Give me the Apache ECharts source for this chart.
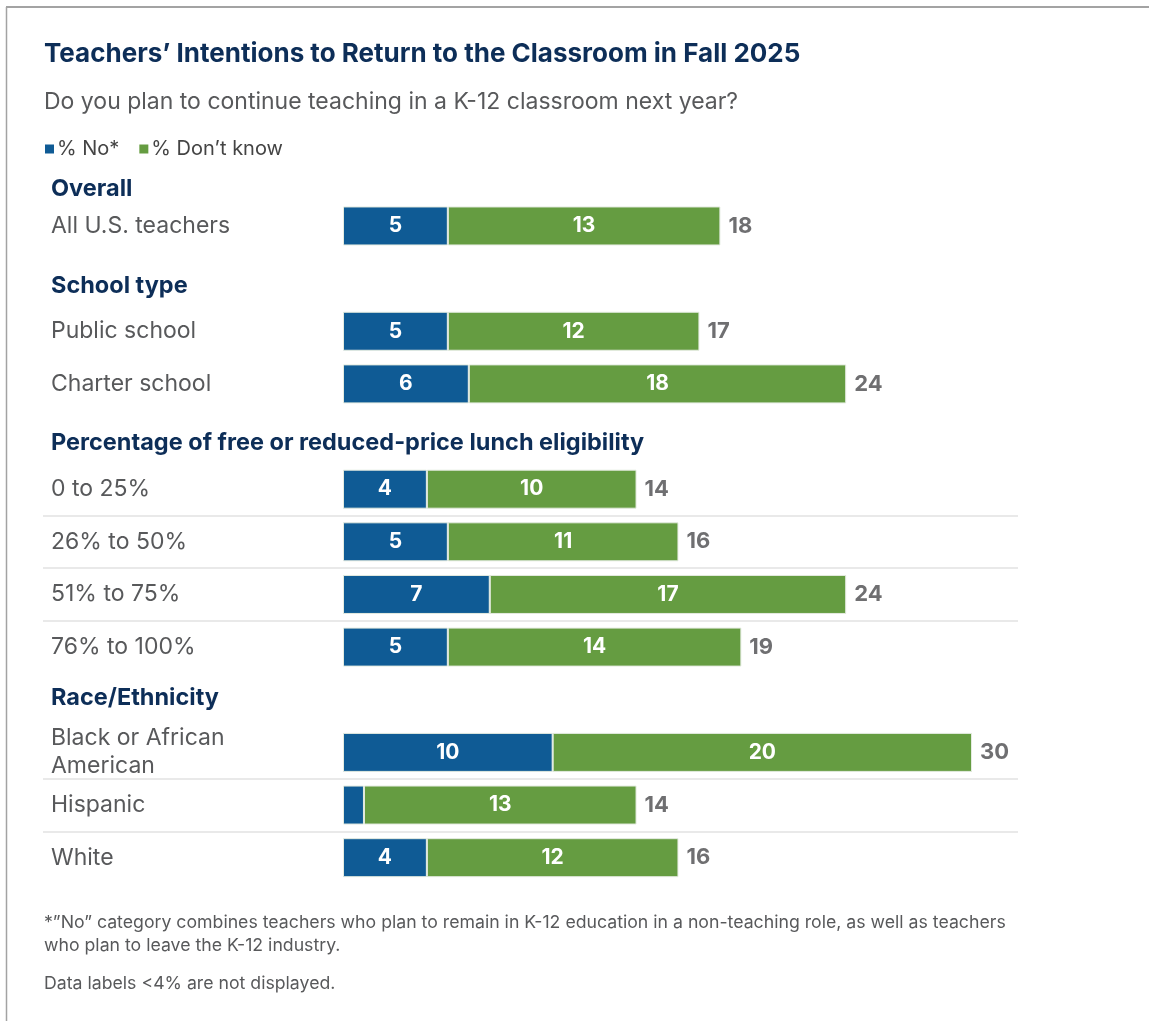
<!DOCTYPE html>
<html>
<head>
<meta charset="utf-8">
<title>Teachers’ Intentions to Return to the Classroom in Fall 2025</title>
<script src="https://cdn.jsdelivr.net/npm/echarts@6/dist/echarts.min.js"></script>
<style>
  html, body { margin: 0; padding: 0; background: #ffffff; }
  #chart { width: 1149px; height: 1021px; }
</style>
</head>
<body>
<div id="chart"></div>
<script>
// Rows, top to bottom. Group headings occupy their own row with no bars.
const rows = [
  'Overall',
  'All U.S. teachers',
  'School type',
  'Public school',
  'Charter school',
  'Percentage of free or reduced-price lunch eligibility',
  '0 to 25%',
  '26% to 50%',
  '51% to 75%',
  '76% to 100%',
  'Race/Ethnicity',
  'Black or African\nAmerican',
  'Hispanic',
  'White'
];
const headings = ['Overall', 'School type', 'Percentage of free or reduced-price lunch eligibility', 'Race/Ethnicity'];

// % No* and % Don't know (null on heading rows)
const noValues       = [null, 5, null, 5, 6, null, 4, 5, 7, 5, null, 10, 1, 4];
const dontKnowValues = [null, 13, null, 12, 18, null, 10, 11, 17, 14, null, 20, 13, 12];

// Rows that get a thin rule above them (inside a group)
const ruledRows = ['Charter school', '26% to 50%', '51% to 75%', '76% to 100%', 'Hispanic', 'White'];

const footnotes = [
  '*”No” category combines teachers who plan to remain in K-12 education in a non-teaching role, as well as teachers',
  'who plan to leave the K-12 industry.',
  'Data labels <4% are not displayed.'
];

const BLUE = '#0f5b95';
const GREEN = '#659c41';
const NAVY = '#0d2e58';
const GREY = '#58595b';
const FONT = 'Inter, "Noto Sans", sans-serif';

const totals = rows.map((r, i) =>
  noValues[i] == null ? null : [noValues[i] + dontKnowValues[i], i]
).filter(d => d !== null);

const chart = echarts.init(document.getElementById('chart'), null, { renderer: 'canvas' });

const gridTop = 147;
const gridBottom = 137;

const barLabel = {
  show: true,
  position: 'inside',
  color: '#ffffff',
  fontFamily: FONT,
  fontWeight: 'bold',
  fontSize: 21,
  formatter: p => (p.value == null || p.value < 4) ? '' : String(p.value)
};

// vertical centres of the group headings
const headingY = {
  'Overall': 189,
  'School type': 286,
  'Percentage of free or reduced-price lunch eligibility': 443,
  'Race/Ethnicity': 698
};

function textAt(x, y, text, font, fill, extra) {
  return {
    type: 'text', x: x, y: y,
    style: Object.assign({ text: text, font: font, fill: fill, verticalAlign: 'middle' }, extra || {})
  };
}

const graphics = [
  // frame
  { type: 'line', shape: { x1: 6, y1: 7, x2: 1149, y2: 7 }, style: { stroke: '#a3a3a3', lineWidth: 2 } },
  { type: 'line', shape: { x1: 6.5, y1: 7, x2: 6.5, y2: 1021 }, style: { stroke: '#a3a3a3', lineWidth: 1.5 } },
  // title and question
  textAt(44, 54, 'Teachers’ Intentions to Return to the Classroom in Fall 2025', 'bold 26px ' + FONT, NAVY),
  textAt(44, 102, 'Do you plan to continue teaching in a K-12 classroom next year?', '23px ' + FONT, GREY)
];

headings.forEach(h => {
  graphics.push(textAt(51, headingY[h], h, 'bold 23.5px ' + FONT, NAVY));
});

graphics.push(textAt(44, 923, footnotes[0], '17.7px ' + FONT, GREY));
graphics.push(textAt(44, 946, footnotes[1], '17.7px ' + FONT, GREY));
graphics.push(textAt(44, 984, footnotes[2], '17.7px ' + FONT, GREY));

const option = {
  backgroundColor: '#ffffff',
  animation: false,
  legend: {
    data: ['% No*', '% Don’t know'],
    left: 40,
    top: 134,
    icon: 'rect',
    itemWidth: 9,
    itemHeight: 9,
    itemGap: 20,
    itemStyle: { borderWidth: 0 },
    textStyle: { fontFamily: FONT, fontSize: 20, color: '#444444', padding: [0, 0, 0, -2] }
  },
  grid: [
    { left: 343, width: 629, top: gridTop, bottom: gridBottom },
    { left: 43, width: 975, top: gridTop, bottom: gridBottom }
  ],
  xAxis: [
    { gridIndex: 0, type: 'value', min: 0, max: 30, show: false },
    { gridIndex: 1, type: 'value', min: 0, max: 1, show: false }
  ],
  yAxis: [
    {
      gridIndex: 0, type: 'category', data: rows, inverse: true,
      axisLine: { show: false }, axisTick: { show: false }, splitLine: { show: false },
      axisLabel: {
        align: 'left', margin: 292,
        fontFamily: FONT, fontSize: 23, color: GREY, lineHeight: 28,
        formatter: v => headings.includes(v) ? '' : v
      }
    },
    {
      gridIndex: 1, type: 'category', data: rows, inverse: true,
      axisLine: { show: false }, axisTick: { show: false }, axisLabel: { show: false },
      splitLine: {
        show: true,
        showMinLine: false,
        showMaxLine: false,
        interval: (idx, v) => ruledRows.includes(rows[idx]),
        lineStyle: { color: '#e2e2e2', width: 1.5 }
      }
    }
  ],
  series: [
    {
      name: '% No*', type: 'bar', stack: 'total', data: noValues,
      xAxisIndex: 0, yAxisIndex: 0, barWidth: 39,
      itemStyle: { color: BLUE, borderColor: '#e4ebe0', borderWidth: 1 },
      label: barLabel
    },
    {
      name: '% Don’t know', type: 'bar', stack: 'total', data: dontKnowValues,
      xAxisIndex: 0, yAxisIndex: 0, barWidth: 39,
      itemStyle: { color: GREEN, borderColor: '#e4ebe0', borderWidth: 1 },
      label: barLabel
    },
    {
      name: 'Total', type: 'scatter', data: totals,
      xAxisIndex: 0, yAxisIndex: 0, symbolSize: 0.01,
      label: {
        show: true, position: 'right', distance: 8,
        fontFamily: FONT, fontWeight: 'bold', fontSize: 22, color: '#4b4b4d',
        formatter: p => String(p.value[0])
      }
    }
  ],
  graphic: graphics
};

chart.setOption(option);
</script>
</body>
</html>
